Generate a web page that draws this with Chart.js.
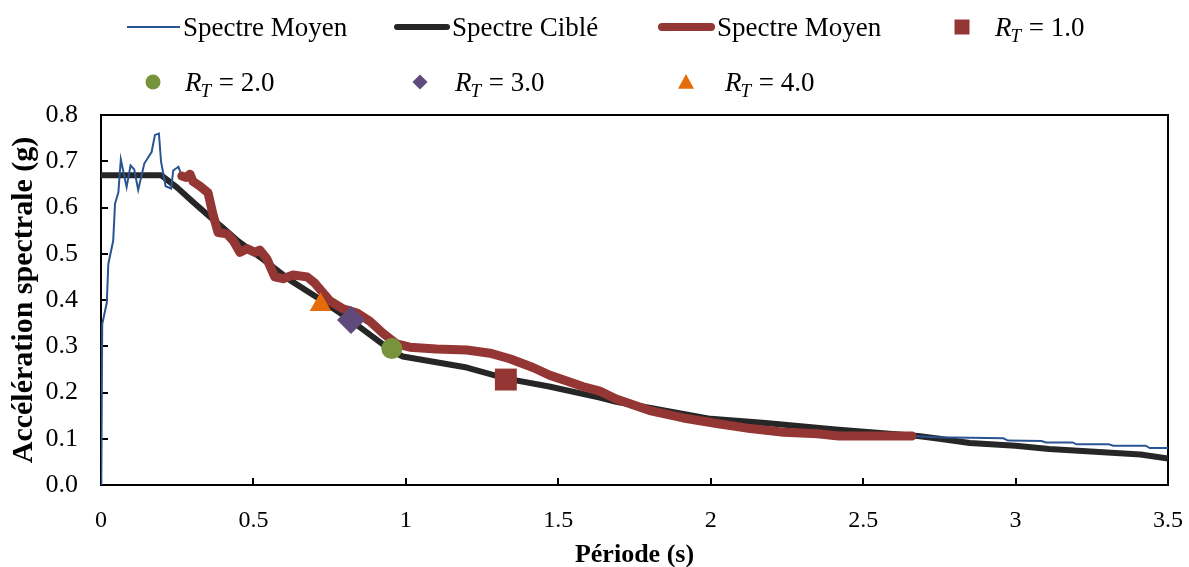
<!DOCTYPE html>
<html lang="fr">
<head>
<meta charset="utf-8">
<title>Spectres de réponse</title>
<script src="https://cdn.jsdelivr.net/npm/chart.js@4/dist/chart.umd.min.js"></script>
<style>
  html, body { margin: 0; padding: 0; background: #fff; }
  #wrap { width: 1189px; height: 567px; }
</style>
</head>
<body>
<div id="wrap"><canvas id="spectra" width="1189" height="567"></canvas></div>
<script>
// Spectre moyen mis à l'échelle (courbe épaisse)
const scaledPeriods = [0.265, 0.28, 0.292, 0.302, 0.325, 0.351, 0.367, 0.384, 0.413, 0.433, 0.456, 0.479, 0.505, 0.521, 0.544, 0.57, 0.597, 0.63, 0.676, 0.702,
  0.751, 0.794, 0.84, 0.882, 0.925, 0.97, 1.013, 1.1, 1.2, 1.276, 1.341, 1.417, 1.473, 1.528, 1.58, 1.636, 1.69, 1.8, 1.91, 2.02, 2.13, 2.24, 2.35, 2.42, 2.56, 2.66];
const scaledAccel = [0.668, 0.665, 0.672, 0.656, 0.646, 0.632, 0.586, 0.546, 0.543, 0.529, 0.503, 0.511, 0.503, 0.508, 0.489, 0.45, 0.446, 0.454, 0.45, 0.436,
  0.398, 0.381, 0.372, 0.354, 0.328, 0.305, 0.298, 0.294, 0.292, 0.285, 0.273, 0.254, 0.237, 0.225, 0.213, 0.203, 0.186, 0.161, 0.145, 0.133, 0.122, 0.114, 0.111, 0.106, 0.106, 0.106];

// Spectre moyen (courbe fine) : début, puis même tracé que la courbe épaisse, puis fin
const meanHeadPeriods = [0.001, 0.004, 0.019, 0.024, 0.04, 0.046, 0.057, 0.065, 0.084, 0.097, 0.109, 0.122, 0.142, 0.166, 0.177, 0.19, 0.197, 0.212, 0.23, 0.237, 0.254];
const meanHeadAccel = [0.0, 0.348, 0.394, 0.478, 0.528, 0.608, 0.633, 0.704, 0.644, 0.691, 0.682, 0.638, 0.695, 0.72, 0.757, 0.76, 0.699, 0.646, 0.641, 0.68, 0.688];
const meanTailPeriods = [2.74, 2.96, 2.975, 3.085, 3.1, 3.187, 3.2, 3.306, 3.32, 3.427, 3.44, 3.5];
const meanTailAccel = [0.103, 0.101, 0.096, 0.095, 0.092, 0.092, 0.088, 0.088, 0.085, 0.085, 0.08, 0.08];

// Spectre ciblé
const targetPeriods = [0, 0.197, 0.25, 0.3, 0.357, 0.4, 0.45, 0.521, 0.62, 0.708, 0.817, 0.958, 0.99, 1.2, 1.33, 1.47, 1.636, 1.69, 2.0, 2.18, 2.41, 2.68, 2.75, 2.85, 3.0, 3.11, 3.41, 3.5];
const targetAccel = [0.67, 0.67, 0.643, 0.613, 0.58, 0.556, 0.527, 0.493, 0.443, 0.406, 0.357, 0.288, 0.278, 0.254, 0.23, 0.213, 0.189, 0.18, 0.143, 0.134, 0.12, 0.106, 0.1, 0.091, 0.085, 0.078, 0.066, 0.057];

// Points R_T
const rtLabels = ["1.0", "2.0", "3.0", "4.0"];
const rtPeriods = [1.328, 0.954, 0.82, 0.72];
const rtAccel = [0.228, 0.295, 0.357, 0.39];

const xTicks = [0, 0.5, 1, 1.5, 2, 2.5, 3, 3.5];
const yTicks = [0, 0.1, 0.2, 0.3, 0.4, 0.5, 0.6, 0.7, 0.8];

const SERIF = "'Liberation Serif', 'Times New Roman', serif";
const BLUE = "#2a5592";
const BLACK = "#262626";
const RED = "#943634";
const GREEN = "#77933c";
const PURPLE = "#604a7b";
const ORANGE = "#e46c0a";

function toPoints(xs, ys) {
  return xs.map((x, i) => ({ x, y: ys[i] }));
}

const meanPoints = [
  ...toPoints(meanHeadPeriods, meanHeadAccel),
  ...toPoints(scaledPeriods, scaledAccel),
  ...toPoints(meanTailPeriods, meanTailAccel),
];

const markers = [
  { style: "rect", radius: 15.5, color: RED },
  { style: "circle", radius: 10.5, color: GREEN },
  { style: "rectRot", radius: 14, color: PURPLE },
  { style: "triangle", radius: 12.5, color: ORANGE },
];

const markerSets = rtLabels.map((lab, i) => ({
  label: "R_T = " + lab,
  data: [{ x: rtPeriods[i], y: rtAccel[i] }],
  showLine: false,
  pointStyle: markers[i].style,
  pointRadius: markers[i].radius,
  pointBackgroundColor: markers[i].color,
  pointBorderColor: markers[i].color,
  pointBorderWidth: 0,
  order: 0,
}));

// inward tick marks + frame around the plot area
const frameTicks = {
  id: "frameTicks",
  beforeDatasetsDraw(chart) {
    const { ctx, chartArea: a, scales } = chart;
    ctx.save();
    ctx.strokeStyle = "#000";
    ctx.lineWidth = 2;
    ctx.strokeRect(a.left, a.top, a.right - a.left, a.bottom - a.top);
    ctx.beginPath();
    xTicks.forEach((t) => {
      const px = Math.round(scales.x.getPixelForValue(t));
      ctx.moveTo(px, a.bottom);
      ctx.lineTo(px, a.bottom - 7);
    });
    yTicks.forEach((t) => {
      const py = Math.round(scales.y.getPixelForValue(t));
      ctx.moveTo(a.left, py);
      ctx.lineTo(a.left + 7, py);
    });
    ctx.stroke();
    ctx.restore();
  },
};

function drawMarker(ctx, m, x, y, r) {
  ctx.fillStyle = m.color;
  ctx.beginPath();
  if (m.style === "rect") {
    ctx.rect(x - r, y - r, 2 * r, 2 * r);
  } else if (m.style === "circle") {
    ctx.arc(x, y, r, 0, Math.PI * 2);
  } else if (m.style === "rectRot") {
    ctx.moveTo(x, y - r);
    ctx.lineTo(x + r, y);
    ctx.lineTo(x, y + r);
    ctx.lineTo(x - r, y);
    ctx.closePath();
  } else {
    ctx.moveTo(x, y - r);
    ctx.lineTo(x + r, y + r * 0.85);
    ctx.lineTo(x - r, y + r * 0.85);
    ctx.closePath();
  }
  ctx.fill();
}

function drawRt(ctx, x, y, value) {
  ctx.fillStyle = "#000";
  ctx.font = "italic 27px " + SERIF;
  ctx.fillText("R", x, y);
  let w = ctx.measureText("R").width;
  ctx.font = "italic 19px " + SERIF;
  ctx.fillText("T", x + w - 1, y + 8);
  w += ctx.measureText("T").width;
  ctx.font = "27px " + SERIF;
  ctx.fillText(" = " + value, x + w, y);
}

// legend drawn in two rows above the plot
const topLegend = {
  id: "topLegend",
  afterDraw(chart) {
    const ctx = chart.ctx;
    ctx.save();
    ctx.textBaseline = "middle";
    ctx.textAlign = "left";
    const row1 = 27, row2 = 82;

    const lines = [
      { x0: 127, x1: 180, w: 2, color: BLUE, cap: "butt", text: "Spectre Moyen", tx: 183 },
      { x0: 397, x1: 447, w: 6, color: BLACK, cap: "round", text: "Spectre Ciblé", tx: 452 },
      { x0: 662, x1: 711, w: 8, color: RED, cap: "round", text: "Spectre Moyen", tx: 717 },
    ];
    lines.forEach((l) => {
      ctx.lineCap = l.cap;
      ctx.strokeStyle = l.color;
      ctx.lineWidth = l.w;
      ctx.beginPath();
      ctx.moveTo(l.x0, row1);
      ctx.lineTo(l.x1, row1);
      ctx.stroke();
      ctx.fillStyle = "#000";
      ctx.font = "27px " + SERIF;
      ctx.fillText(l.text, l.tx, row1 + 2);
    });

    const slots = [
      { mx: 962, my: row1, r: 7.5, tx: 995, ty: row1 + 2 },
      { mx: 153, my: row2, r: 7.5, tx: 185, ty: row2 + 2 },
      { mx: 420, my: row2, r: 7.5, tx: 455, ty: row2 + 2 },
      { mx: 686, my: row2, r: 8, tx: 725, ty: row2 + 2 },
    ];
    slots.forEach((s, i) => {
      drawMarker(ctx, markers[i], s.mx, s.my, s.r);
      drawRt(ctx, s.tx, s.ty, rtLabels[i]);
    });
    ctx.restore();
  },
};

new Chart(document.getElementById("spectra"), {
  type: "scatter",
  data: {
    datasets: [
      ...markerSets,
      {
        label: "Spectre Moyen (échelle)",
        data: toPoints(scaledPeriods, scaledAccel),
        showLine: true,
        borderColor: RED,
        borderWidth: 9,
        borderCapStyle: "round",
        borderJoinStyle: "round",
        pointRadius: 0,
        order: 1,
      },
      {
        label: "Spectre Moyen",
        data: meanPoints,
        showLine: true,
        borderColor: BLUE,
        borderWidth: 2,
        pointRadius: 0,
        order: 2,
      },
      {
        label: "Spectre Ciblé",
        data: toPoints(targetPeriods, targetAccel),
        showLine: true,
        borderColor: BLACK,
        borderWidth: 6,
        borderJoinStyle: "round",
        pointRadius: 0,
        order: 3,
      },
    ],
  },
  options: {
    responsive: false,
    animation: false,
    events: [],
    layout: { padding: { top: 115, right: 21, left: 0, bottom: 0 } },
    plugins: {
      legend: { display: false },
      tooltip: { enabled: false },
    },
    scales: {
      x: {
        type: "linear",
        min: 0,
        max: 3.5,
        afterFit: (s) => { s.height = 82; s.paddingRight = 0; s.paddingLeft = 0; },
        afterBuildTicks: (s) => { s.ticks = xTicks.map((v) => ({ value: v })); },
        grid: { display: false },
        border: { display: false },
        ticks: {
          padding: 13,
          color: "#000",
          font: { family: SERIF, size: 24 },
          callback: (v) => String(v),
        },
        title: {
          display: true,
          text: "Période (s)",
          color: "#000",
          font: { family: SERIF, size: 26, weight: "bold" },
          padding: { top: 0, bottom: -4 },
        },
      },
      y: {
        type: "linear",
        min: 0,
        max: 0.8,
        afterFit: (s) => { s.width = 101; },
        afterBuildTicks: (s) => { s.ticks = yTicks.map((v) => ({ value: v })); },
        grid: { display: false },
        border: { display: false },
        ticks: {
          padding: 15,
          color: "#000",
          font: { family: SERIF, size: 26 },
          callback: (v) => Number(v).toFixed(1),
        },
        title: {
          display: true,
          text: "Accélération spectrale (g)",
          color: "#000",
          font: { family: SERIF, size: 30, weight: "bold" },
          padding: { top: 6, bottom: 0 },
        },
      },
    },
  },
  plugins: [frameTicks, topLegend],
});
</script>
</body>
</html>
